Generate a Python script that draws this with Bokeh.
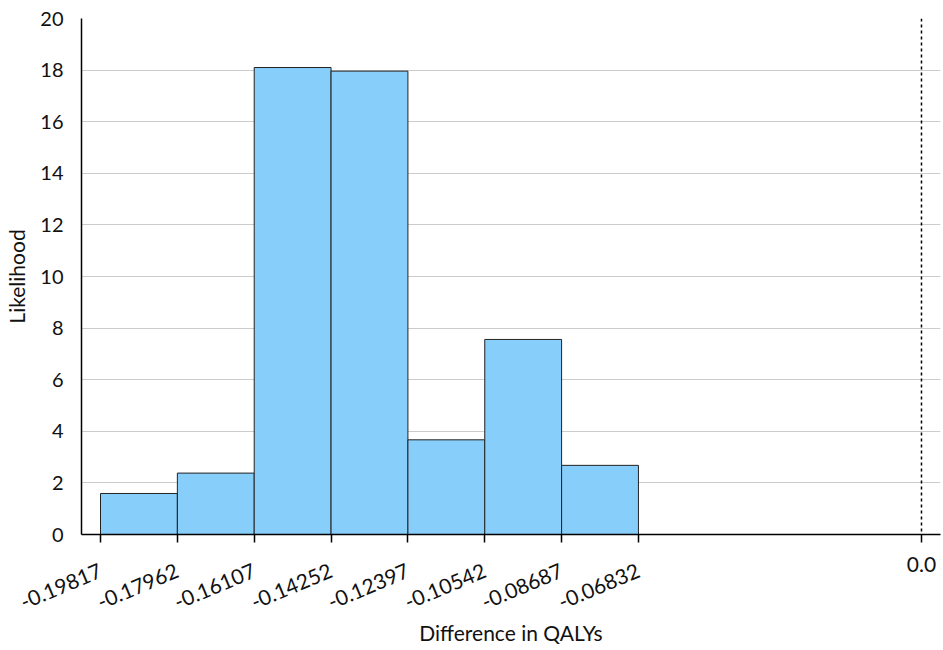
from bokeh.plotting import figure
from bokeh.models import FixedTicker, Span, Range1d, LinearAxis
from bokeh.embed import file_html
from bokeh.resources import INLINE

# Histogram of the QALY difference
bin_edges = [-0.19817, -0.17962, -0.16107, -0.14252, -0.12397, -0.10542, -0.08687, -0.06832]
densities = [1.59, 2.38, 18.10, 17.96, 3.67, 7.56, 2.68]
edge_labels = ["-0.19817", "-0.17962", "-0.16107", "-0.14252", "-0.12397", "-0.10542", "-0.08687", "-0.06832"]
y_ticks = [0, 2, 4, 6, 8, 10, 12, 14, 16, 18, 20]
ref_value = 0.0
ref_label = "0.0"

FONT = "Lato"
TEXT = "#111111"

p = figure(width=943, height=650, output_backend="svg", toolbar_location=None,
           x_range=Range1d(-0.20276, 0.00459), y_range=Range1d(0, 20))
p.min_border_left = 81
p.min_border_right = 3
p.min_border_top = 18
p.min_border_bottom = 116
p.outline_line_color = None
p.background_fill_color = "white"
p.border_fill_color = "white"

p.quad(left=bin_edges[:-1], right=bin_edges[1:], bottom=0, top=densities,
       fill_color="#87CEFA", line_color="#222222", line_width=1)

# dotted reference line at zero difference
p.add_layout(Span(location=ref_value, dimension="height", line_color="black",
                  line_dash="3 3", line_width=1.5))

# grid
p.xgrid.visible = False
p.ygrid.ticker = FixedTicker(ticks=y_ticks)
p.ygrid.grid_line_color = "#cccccc"
p.ygrid.grid_line_width = 1

all_ticks = bin_edges + [ref_value]

# inner x axis: line, tick marks and the upright zero label
xa = p.xaxis[0]
xa.ticker = FixedTicker(ticks=all_ticks)
inner = {e: "" for e in bin_edges}
inner[ref_value] = ref_label
xa.major_label_overrides = inner
xa.major_label_text_font = FONT
xa.major_label_text_font_size = "21px"
xa.major_label_text_color = TEXT
xa.major_label_standoff = 14
xa.major_tick_out = 8
xa.major_tick_in = 0
xa.minor_tick_line_color = None
xa.axis_line_color = "black"
xa.axis_line_width = 1.5
xa.major_tick_line_color = "black"
xa.major_tick_line_width = 1.5

# outer x axis: slanted bin-edge labels and the axis title
outer = {e: s for e, s in zip(bin_edges, edge_labels)}
outer[ref_value] = ""
edge_axis = LinearAxis(ticker=FixedTicker(ticks=all_ticks),
                       major_label_overrides=outer,
                       major_label_orientation=0.40,
                       major_label_standoff=-5,
                       major_label_text_font=FONT,
                       major_label_text_font_size="21px",
                       major_label_text_color=TEXT,
                       axis_line_color=None,
                       major_tick_line_color=None,
                       minor_tick_line_color=None,
                       major_tick_out=0, major_tick_in=0,
                       axis_label="Difference in QALYs",
                       axis_label_text_font=FONT,
                       axis_label_text_font_size="21px",
                       axis_label_text_font_style="normal",
                       axis_label_text_color=TEXT,
                       axis_label_standoff=0)
p.add_layout(edge_axis, "below")

# y axis
ya = p.yaxis[0]
ya.ticker = FixedTicker(ticks=y_ticks)
ya.major_label_text_font = FONT
ya.major_label_text_font_size = "20px"
ya.major_label_text_color = TEXT
ya.major_tick_line_color = None
ya.minor_tick_line_color = None
ya.major_label_standoff = 12
ya.axis_line_color = "black"
ya.axis_line_width = 1.5
ya.axis_label = "Likelihood"
ya.axis_label_text_font = FONT
ya.axis_label_text_font_size = "21px"
ya.axis_label_text_font_style = "normal"
ya.axis_label_text_color = TEXT
ya.axis_label_standoff = 8

open("out.html", "w").write(file_html(p, INLINE))
